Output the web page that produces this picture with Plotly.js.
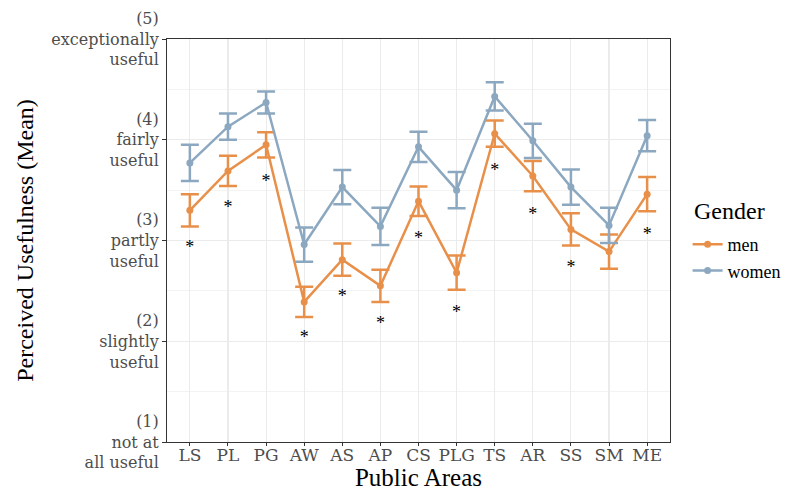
<!DOCTYPE html>
<html>
<head>
<meta charset="utf-8">
<script src="https://cdn.plot.ly/plotly-3.0.1.min.js"></script>
<style>html,body{margin:0;padding:0;background:#fff;}#chart{width:787px;height:491px;}</style>
</head>
<body>
<div id="chart"></div>
<script>
const areas = ["LS","PL","PG","AW","AS","AP","CS","PLG","TS","AR","SS","SM","ME"];
const menMean   = [3.30,3.69,3.95,2.39,2.81,2.55,3.39,2.68,4.06,3.64,3.11,2.89,3.46];
const menErr    = [0.16,0.15,0.125,0.15,0.16,0.16,0.146,0.17,0.13,0.15,0.16,0.17,0.17];
const womenMean = [3.77,4.13,4.37,2.96,3.53,3.14,3.93,3.50,4.43,3.99,3.53,3.15,4.04];
const womenErr  = [0.18,0.13,0.11,0.17,0.17,0.185,0.15,0.18,0.14,0.17,0.175,0.175,0.155];
const sigStar   = ["*","*","*","*","*","*","*","*","*","*","*","","*"];
const starY     = [2.92,3.32,3.58,2.03,2.43,2.17,3.01,2.28,3.68,3.25,2.72,null,3.05];
const yTickVals = [1,2,3,4,5];
const yTickText = ["(1)<br>not at<br>all useful","(2)<br>slightly<br>useful","(3)<br>partly<br>useful","(4)<br>fairly<br>useful","(5)<br>exceptionally<br>useful"];

const orange = "#E8904A";
const blue = "#8CA8C0";
const serif = "Liberation Serif, DejaVu Serif, serif";
const tickSerif = "DejaVu Serif, Liberation Serif, serif";

const traces = [
  {x: areas, y: menMean, name: "men", type: "scatter", mode: "lines+markers",
   line: {color: orange, width: 2.5}, marker: {color: orange, size: 7},
   error_y: {type: "data", array: menErr, visible: true, color: orange, thickness: 2.5, width: 9}},
  {x: areas, y: womenMean, name: "women", type: "scatter", mode: "lines+markers",
   line: {color: blue, width: 2.5}, marker: {color: blue, size: 7},
   error_y: {type: "data", array: womenErr, visible: true, color: blue, thickness: 2.5, width: 9}},
  {x: areas, y: starY, text: sigStar, mode: "text", type: "scatter", showlegend: false,
   textposition: "middle center", textfont: {family: serif, size: 18, color: "#000"}, hoverinfo: "skip"}
];

const layout = {
  width: 787, height: 491,
  margin: {l: 167, r: 117, t: 39, b: 49, autoexpand: false},
  paper_bgcolor: "#fff", plot_bgcolor: "#fff",
  font: {family: serif},
  showlegend: true,
  xaxis: {
    type: "category", categoryorder: "array", categoryarray: areas,
    range: [-0.6, 12.6],
    showgrid: true, gridcolor: "#EBEBEB", gridwidth: 1.1,
    showline: true, linecolor: "#333", linewidth: 1, mirror: true,
    ticks: "outside", ticklen: 3, tickcolor: "#333",
    ticklabelstandoff: -5,
    tickfont: {family: tickSerif, size: 17, color: "#4D4D4D"},
    title: {text: "Public Areas", font: {family: serif, size: 25, color: "#000"}, standoff: 0},
    zeroline: false, automargin: false
  },
  yaxis: {
    range: [1, 5],
    tickvals: yTickVals, ticktext: yTickText,
    showgrid: true, gridcolor: "#EBEBEB", gridwidth: 1.1,
    minor: {dtick: 0.5, tick0: 1, showgrid: true, gridcolor: "#F0F0F0", gridwidth: 0.8},
    showline: true, linecolor: "#333", linewidth: 1, mirror: true,
    ticks: "outside", ticklen: 4, tickcolor: "#333",
    tickfont: {family: tickSerif, size: 16, color: "#4D4D4D"},
    title: {text: "Perceived Usefulness (Mean)", font: {family: serif, size: 24, color: "#000"}, standoff: 10},
    zeroline: false, automargin: false
  },
  legend: {
    x: 1.035, xanchor: "left", y: 0.536, yanchor: "top",
    font: {family: serif, size: 18, color: "#000"},
    bgcolor: "rgba(0,0,0,0)", itemwidth: 30
  },
  annotations: [
    {text: "Gender", xref: "paper", yref: "paper", x: 1.043, y: 0.573,
     xanchor: "left", yanchor: "middle", showarrow: false,
     font: {family: serif, size: 24, color: "#000"}}
  ]
};

Plotly.newPlot("chart", traces, layout, {displayModeBar: false, staticPlot: true});
</script>
</body>
</html>
